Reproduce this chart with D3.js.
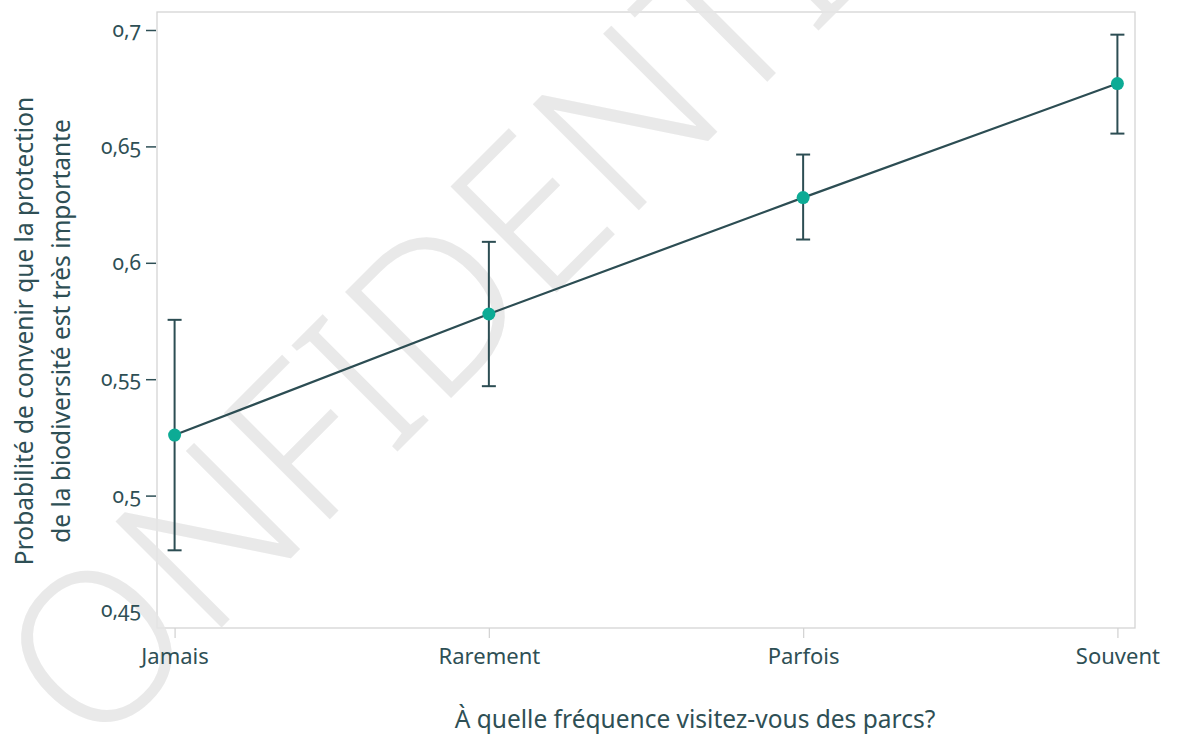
<!DOCTYPE html>
<html>
<head>
<meta charset="utf-8">
<script src="https://cdn.jsdelivr.net/npm/d3@7"></script>
<style>
  body { margin: 0; background: #fff; }
  svg text { font-family: "Noto Sans", "Open Sans", sans-serif; fill: #2e4f55; }
  .num { font-variant-numeric: oldstyle-nums; font-feature-settings: "onum" 1; }
</style>
</head>
<body>
<div id="container"></div>
<script>
/* DATA */
const categories = ["Jamais", "Rarement", "Parfois", "Souvent"];
const estimates = [0.526, 0.578, 0.628, 0.677];
const lowerCI = [0.4765, 0.547, 0.610, 0.6555];
const upperCI = [0.5755, 0.609, 0.6465, 0.698];
const yTicks = [0.45, 0.5, 0.55, 0.6, 0.65, 0.7];

const width = 1178, height = 734,
  frame = { left: 157, right: 1135, top: 12, bottom: 628 };

const data = categories.map((c, i) => ({ cat: c, est: estimates[i], lo: lowerCI[i], hi: upperCI[i] }));

const svg = d3.select("#container").append("svg")
  .attr("width", width).attr("height", height);

/* SCALES */
const xScale = d3.scalePoint()
  .domain(categories)
  .range([frame.left, frame.right])
  .padding(0.056);

const yScale = d3.scaleLinear()
  .domain([0.45, 0.7])
  .range([612, 30]);

/* FRAME */
svg.append("rect")
  .attr("x", frame.left).attr("y", frame.top)
  .attr("width", frame.right - frame.left)
  .attr("height", frame.bottom - frame.top)
  .attr("fill", "none")
  .attr("stroke", "#d4d4d4")
  .attr("stroke-width", 1.3);

/* WATERMARK */
svg.append("text")
  .attr("transform", "translate(474,296) rotate(-45)")
  .attr("text-anchor", "middle")
  .attr("dominant-baseline", "middle")
  .style("font-family", "'Noto Sans', sans-serif")
  .style("font-weight", 350)
  .style("font-size", "210px")
  .style("fill", "#e6e6e6")
  .style("opacity", 0.85)
  .text("CONFIDENTIAL");

/* AXES */
const fmt = d => String(d).replace(".", ",");

const yAxis = svg.append("g")
  .attr("transform", `translate(${frame.left - 1},0)`)
  .call(d3.axisLeft(yScale).tickValues(yTicks).tickFormat(fmt).tickSize(10).tickPadding(5));
yAxis.select(".domain").remove();
yAxis.selectAll(".tick line").attr("stroke", "#2e4f55").attr("stroke-width", 1.5)
  .attr("opacity", d => d === 0.45 ? 0 : 1);
yAxis.selectAll(".tick text").attr("class", "num").style("font-size", "21px")
  .attr("dy", d => d === 0.45 ? "0.2em" : "0.32em");

const xAxis = svg.append("g")
  .attr("transform", `translate(0,${frame.bottom})`)
  .call(d3.axisBottom(xScale).tickSize(10).tickPadding(10));
xAxis.select(".domain").remove();
xAxis.selectAll(".tick line").attr("stroke", "#d4d4d4").attr("stroke-width", 1.3);
xAxis.selectAll(".tick text").style("font-size", "22px");

/* AXIS TITLES */
svg.append("text")
  .attr("x", 695).attr("y", 728)
  .attr("text-anchor", "middle")
  .style("font-size", "24.5px")
  .text("À quelle fréquence visitez-vous des parcs?");

const yTitle = svg.append("text")
  .attr("transform", "translate(0,331) rotate(-90)")
  .attr("text-anchor", "middle")
  .style("font-size", "24.5px");
yTitle.append("tspan").attr("x", 0).attr("y", 33).text("Probabilité de convenir que la protection");
yTitle.append("tspan").attr("x", 0).attr("y", 70).text("de la biodiversité est très importante");

/* ERROR BARS */
const lineColor = "#2c4d53";
const cap = 7;
const eb = svg.append("g").attr("stroke", lineColor).attr("stroke-width", 2);
eb.selectAll(".bar").data(data).join("line")
  .attr("x1", d => xScale(d.cat)).attr("x2", d => xScale(d.cat))
  .attr("y1", d => yScale(d.lo)).attr("y2", d => yScale(d.hi));
eb.selectAll(".capHi").data(data).join("line").attr("class", "capHi")
  .attr("x1", d => xScale(d.cat) - cap).attr("x2", d => xScale(d.cat) + cap)
  .attr("y1", d => yScale(d.hi)).attr("y2", d => yScale(d.hi));
eb.selectAll(".capLo").data(data).join("line").attr("class", "capLo")
  .attr("x1", d => xScale(d.cat) - cap).attr("x2", d => xScale(d.cat) + cap)
  .attr("y1", d => yScale(d.lo)).attr("y2", d => yScale(d.lo));

/* LINE */
svg.append("path")
  .datum(data)
  .attr("fill", "none")
  .attr("stroke", lineColor)
  .attr("stroke-width", 2.2)
  .attr("d", d3.line().x(d => xScale(d.cat)).y(d => yScale(d.est)));

/* POINTS */
svg.selectAll(".pt").data(data).join("circle")
  .attr("cx", d => xScale(d.cat))
  .attr("cy", d => yScale(d.est))
  .attr("r", 6.5)
  .attr("fill", "#0dab95");
</script>
</body>
</html>
